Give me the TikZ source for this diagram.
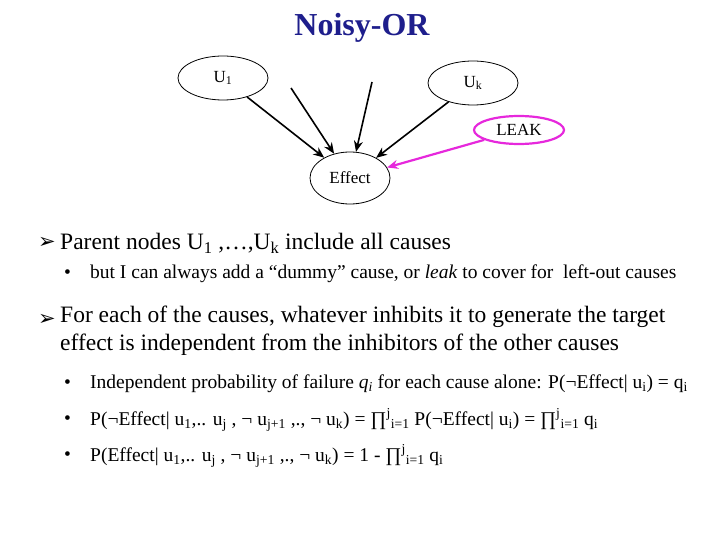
\documentclass[tikz,border=0pt]{standalone}
\usepackage{fontspec}
\setmainfont{Liberation Serif}
\newfontfamily\dejavu{DejaVu Sans}
\usetikzlibrary{shapes.geometric,arrows.meta}
\definecolor{navy}{RGB}{30,30,140}
\definecolor{mag}{RGB}{230,40,220}
\tikzset{
  ell/.style={ellipse,draw,thick,inner sep=0pt,font=\fontsize{17}{19}\selectfont},
  arr/.style={-{Stealth[length=11pt,width=9pt]},line width=1.6pt},
  main/.style={anchor=west,inner sep=0pt,font=\fontsize{23.5}{28}\selectfont,align=left},
  sub/.style={anchor=west,inner sep=0pt,font=\fontsize{19.5}{22}\selectfont},
  blt/.style={anchor=west,inner sep=0pt,font=\dejavu\fontsize{21}{22}\selectfont},
}
\begin{document}
\begin{tikzpicture}[x=1pt,y=-1pt]
\useasboundingbox (0,0) rectangle (720,540);
\node[font=\bfseries\fontsize{32}{34}\selectfont,text=navy] (title) at (362,28) {Noisy-OR};
\node[ell,minimum width=90pt,minimum height=44pt] (u1) at (223,78) {U\textsubscript{1}};
\node[ell,minimum width=90pt,minimum height=44pt] (uk) at (473,83) {U\textsubscript{k}};
\node[ell,draw=mag,line width=2.2pt,minimum width=90pt,minimum height=28pt] (leak) at (519,130) {LEAK};
\node[ell,minimum width=80pt,minimum height=52pt] (eff) at (350,178) {Effect};
\coordinate (a) at (291,88);
\coordinate (b) at (372,82);
\draw[arr] (u1) -- (eff);
\draw[arr] (a) -- (eff);
\draw[arr] (b) -- (eff);
\draw[arr] (uk) -- (eff);
\draw[arr,draw=mag,line width=2.2pt] (leak) -- (eff);
\node[blt] (m1b) at (38,243) {➢};
\node[main] (m1) at (60,243) {Parent nodes U\textsubscript{1} ,\dots,U\textsubscript{k} include all causes};
\node[sub] (s0b) at (64,274) {•};
\node[sub] (s0) at (90,274) {but I can always add a “dummy” cause, or \textit{leak} to cover for\ \ left-out causes};
\node[blt] (m2b) at (38,320) {➢};
\node[main,anchor=north west] (m2) at (60,306) {For each of the causes, whatever inhibits it to generate the target\\effect is independent from the inhibitors of the other causes};
\node[sub] (s1b) at (64,384) {•};
\node[sub] (s1) at (90,384) {Independent probability of failure \textit{q\textsubscript{i}} for each cause alone: P(¬Effect| u\textsubscript{i}) = q\textsubscript{i}};
\node[sub] (s2b) at (64,420) {•};
\node[sub] (s2) at (90,420) {P(¬Effect| u\textsubscript{1},.. u\textsubscript{j} , ¬ u\textsubscript{j+1} ,., ¬ u\textsubscript{k}) = ∏\textsuperscript{j}\textsubscript{i=1} P(¬Effect| u\textsubscript{i}) = ∏\textsuperscript{j}\textsubscript{i=1} q\textsubscript{i}};
\node[sub] (s3b) at (64,456) {•};
\node[sub] (s3) at (90,456) {P(Effect| u\textsubscript{1},.. u\textsubscript{j} , ¬ u\textsubscript{j+1} ,., ¬ u\textsubscript{k}) = 1 - ∏\textsuperscript{j}\textsubscript{i=1} q\textsubscript{i}};
\end{tikzpicture}
\end{document}
